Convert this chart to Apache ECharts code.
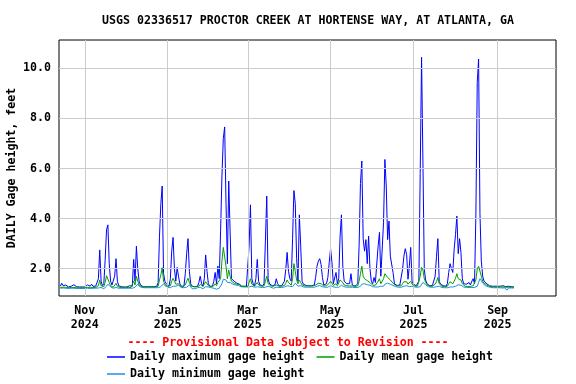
<!DOCTYPE html>
<html><head><meta charset="utf-8">
<script src="https://cdn.jsdelivr.net/npm/echarts@6/dist/echarts.min.js"></script>
<style>html,body{margin:0;padding:0;background:#fff}#c{width:576px;height:384px}</style>
</head><body><div id="c"></div>
<script>
// Daily values starting 2024-10-14
const startDate = '2024-10-14';
const maxHeight = [
1.30,1.42,1.32,1.28,1.35,1.30,1.27,1.33,1.30,1.27,1.36,1.30,1.28,1.32,1.27,1.26,1.27,1.26,
1.27,1.26,1.35,1.28,1.30,1.38,1.30,1.32,1.30,1.35,1.60,2.75,1.50,1.32,1.40,2.35,3.55,3.75,2.20,1.50,1.35,1.30,1.70,2.40,1.50,1.32,1.30,1.28,1.28,1.27,
1.27,1.27,1.28,1.32,1.28,1.30,2.37,1.50,2.90,2.00,1.50,1.35,1.30,1.28,1.28,1.28,1.28,1.28,1.28,1.28,1.28,1.28,1.28,1.30,1.45,3.30,4.60,5.30,1.80,1.50,1.40,
1.35,1.30,1.60,2.70,3.25,2.00,1.50,2.05,1.70,1.40,1.30,1.28,1.30,1.80,2.60,3.20,1.90,1.40,1.30,1.28,1.28,1.28,1.30,1.45,1.70,1.40,1.30,1.60,2.55,1.90,1.40,
1.30,1.28,1.30,1.50,1.85,1.40,2.10,1.60,3.50,5.70,7.20,7.66,4.60,2.20,5.50,3.50,1.60,1.55,1.50,1.45,1.42,1.40,1.38,1.30,1.30,1.30,1.30,1.30,
1.30,2.90,4.55,1.60,1.40,1.32,1.60,2.37,1.50,1.35,1.32,1.32,1.40,3.10,4.90,1.60,1.40,1.35,1.32,1.32,1.35,1.60,1.40,1.32,1.30,1.32,1.35,1.50,1.97,2.65,1.90,
1.60,1.50,3.20,5.12,4.60,2.40,1.50,4.15,2.90,1.50,1.38,1.35,1.33,1.32,1.32,1.32,1.32,1.33,1.35,1.65,2.10,2.30,2.40,2.17,1.65,1.35,1.35,1.40,1.65,2.25,
2.80,2.25,1.40,1.45,1.85,1.40,1.60,3.30,4.15,2.10,1.50,1.45,1.40,1.38,1.40,1.80,1.35,1.32,1.30,1.30,1.40,2.90,5.40,6.30,3.20,2.70,3.16,2.20,3.30,2.00,1.50,
1.40,1.65,1.45,1.50,2.90,3.45,1.70,1.65,3.85,6.36,5.30,3.16,3.90,2.50,2.45,1.85,1.40,1.35,1.33,1.32,1.35,1.40,1.97,2.50,2.80,2.57,1.58,2.10,2.85,1.50,
1.38,1.33,1.32,1.35,1.50,5.80,10.44,6.26,1.97,1.55,1.40,1.35,1.32,1.32,1.33,1.40,1.70,2.50,3.20,1.50,1.38,1.33,1.32,1.30,1.30,1.40,1.85,2.20,2.00,1.85,2.77,
3.36,4.10,2.60,3.20,2.65,1.60,1.40,1.33,1.38,1.32,1.45,1.35,1.50,1.60,1.40,4.15,9.44,10.37,4.20,2.30,1.70,1.50,1.45,1.40,1.35,1.32,1.35,1.30,1.33,1.30,1.30,
1.30,1.33,1.30,1.30,1.32,1.30,1.28,1.30,1.30,1.28,1.28,1.28,1.27
];
const meanHeight = [
1.25,1.27,1.26,1.25,1.26,1.25,1.24,1.25,1.25,1.24,1.25,1.25,1.24,1.25,1.24,1.24,1.24,1.24,
1.24,1.24,1.25,1.24,1.24,1.25,1.25,1.25,1.25,1.25,1.32,1.55,1.32,1.27,1.28,1.45,1.72,1.72,1.45,1.32,1.28,1.26,1.30,1.42,1.30,1.26,1.25,1.25,1.25,1.25,
1.25,1.25,1.25,1.26,1.25,1.25,1.50,1.35,1.70,1.50,1.35,1.30,1.28,1.27,1.27,1.27,1.27,1.27,1.27,1.27,1.27,1.27,1.27,1.27,1.30,1.55,1.75,2.04,1.50,1.38,1.32,
1.30,1.28,1.32,1.50,1.62,1.50,1.38,1.45,1.40,1.32,1.29,1.28,1.28,1.35,1.50,1.62,1.45,1.32,1.29,1.28,1.28,1.28,1.28,1.30,1.38,1.32,1.29,1.33,1.48,1.42,1.32,
1.29,1.28,1.28,1.32,1.40,1.32,1.45,1.38,1.60,2.30,2.85,2.90,2.10,1.60,1.95,1.70,1.50,1.45,1.42,1.40,1.38,1.37,1.36,1.30,1.29,1.29,1.29,1.29,
1.29,1.45,1.60,1.38,1.32,1.30,1.33,1.45,1.35,1.31,1.30,1.30,1.31,1.50,1.70,1.40,1.33,1.31,1.30,1.30,1.30,1.35,1.32,1.30,1.30,1.30,1.31,1.33,1.42,1.55,1.45,
1.38,1.34,1.60,2.20,1.90,1.55,1.40,1.55,1.45,1.35,1.32,1.31,1.31,1.31,1.31,1.31,1.31,1.31,1.31,1.35,1.40,1.42,1.42,1.40,1.35,1.31,1.31,1.32,1.36,1.42,
1.50,1.42,1.33,1.32,1.40,1.32,1.35,1.55,1.62,1.45,1.35,1.33,1.32,1.31,1.31,1.38,1.31,1.30,1.30,1.30,1.31,1.50,1.80,2.10,1.70,1.60,1.62,1.52,1.55,1.45,1.38,
1.34,1.38,1.34,1.33,1.50,1.60,1.40,1.38,1.60,1.80,1.78,1.65,1.65,1.55,1.50,1.42,1.36,1.33,1.32,1.31,1.31,1.32,1.40,1.48,1.50,1.48,1.38,1.40,1.50,1.38,
1.33,1.31,1.30,1.30,1.33,1.70,2.05,1.95,1.60,1.45,1.36,1.32,1.30,1.30,1.30,1.32,1.38,1.48,1.65,1.40,1.33,1.30,1.29,1.28,1.28,1.30,1.40,1.48,1.45,1.40,1.50,
1.62,1.80,1.60,1.62,1.55,1.40,1.33,1.30,1.30,1.29,1.31,1.29,1.30,1.32,1.30,1.55,2.00,2.10,2.05,1.70,1.50,1.42,1.38,1.35,1.32,1.30,1.30,1.28,1.28,1.27,1.27,
1.27,1.27,1.27,1.26,1.27,1.26,1.26,1.26,1.26,1.26,1.26,1.26,1.26
];
const minHeight = [
1.22,1.23,1.23,1.22,1.22,1.22,1.21,1.22,1.22,1.21,1.22,1.22,1.21,1.22,1.21,1.21,1.21,1.21,
1.21,1.21,1.22,1.21,1.21,1.22,1.22,1.22,1.22,1.22,1.23,1.28,1.25,1.22,1.20,1.18,1.30,1.38,1.32,1.27,1.24,1.22,1.22,1.25,1.24,1.22,1.22,1.22,1.22,1.22,
1.22,1.22,1.22,1.22,1.22,1.22,1.24,1.26,1.32,1.38,1.30,1.26,1.25,1.24,1.24,1.24,1.24,1.24,1.24,1.24,1.24,1.24,1.24,1.24,1.24,1.25,1.28,1.35,1.40,1.32,1.28,
1.26,1.25,1.24,1.26,1.30,1.36,1.30,1.28,1.34,1.28,1.25,1.24,1.24,1.24,1.26,1.30,1.35,1.28,1.20,1.18,1.20,1.24,1.24,1.24,1.26,1.26,1.20,1.24,1.28,1.32,1.27,
1.25,1.24,1.24,1.22,1.20,1.18,1.22,1.22,1.25,1.40,1.58,1.65,1.55,1.45,1.50,1.45,1.40,1.38,1.36,1.35,1.34,1.33,1.32,1.28,1.27,1.27,1.27,1.27,
1.27,1.27,1.32,1.30,1.27,1.26,1.26,1.28,1.28,1.26,1.25,1.25,1.25,1.26,1.32,1.30,1.27,1.26,1.25,1.22,1.25,1.26,1.26,1.25,1.20,1.25,1.26,1.27,1.28,1.32,1.32,
1.30,1.28,1.28,1.35,1.42,1.35,1.30,1.30,1.32,1.28,1.27,1.26,1.26,1.26,1.26,1.26,1.26,1.26,1.26,1.27,1.30,1.32,1.33,1.32,1.28,1.26,1.26,1.22,1.26,1.30,
1.33,1.30,1.27,1.22,1.26,1.26,1.26,1.28,1.34,1.32,1.28,1.26,1.26,1.22,1.26,1.26,1.26,1.25,1.25,1.25,1.25,1.26,1.30,1.38,1.42,1.40,1.38,1.36,1.36,1.34,1.30,
1.28,1.27,1.27,1.26,1.27,1.30,1.30,1.28,1.30,1.38,1.45,1.42,1.40,1.38,1.36,1.33,1.30,1.28,1.27,1.26,1.26,1.26,1.27,1.30,1.32,1.32,1.30,1.28,1.30,1.30,
1.28,1.27,1.26,1.26,1.26,1.28,1.32,1.45,1.45,1.36,1.30,1.28,1.26,1.26,1.26,1.26,1.27,1.28,1.30,1.30,1.27,1.25,1.24,1.24,1.24,1.24,1.25,1.27,1.28,1.27,1.28,
1.30,1.34,1.36,1.34,1.34,1.30,1.27,1.26,1.25,1.25,1.25,1.25,1.25,1.25,1.25,1.26,1.30,1.45,1.60,1.52,1.42,1.36,1.32,1.30,1.28,1.26,1.25,1.25,1.24,1.24,1.24,
1.24,1.24,1.24,1.23,1.24,1.23,1.22,1.15,1.23,1.23,1.23,1.23,1.23
];
const xTickDates = ['2024-11-01','2025-01-01','2025-03-01','2025-05-01','2025-07-01','2025-09-01'];
const monthNames = ['Jan','Feb','Mar','Apr','May','Jun','Jul','Aug','Sep','Oct','Nov','Dec'];
const yTicks = [2, 4, 6, 8, 10];
const xRange = ['2024-10-13', '2025-10-14'];
const yRange = [0.91, 11.13];
const seriesNames = ['Daily maximum gage height', 'Daily mean gage height', 'Daily minimum gage height'];
const seriesColors = ['#0000FF', '#00A000', '#1E90E0'];

const DAY = 86400000;
const t0 = Date.parse(startDate + 'T00:00:00Z');
const toPairs = arr => arr.map((v, i) => [t0 + i * DAY, v]);
const ts = s => Date.parse(s + 'T00:00:00Z');
const xTicks = xTickDates.map(ts);

const FONT = 'DejaVu Sans Mono';
const txt = {fontFamily: FONT, fontWeight: 'bold', fontSize: 11.6, color: '#000'};
const FONT_CSS = 'bold 11.6px "DejaVu Sans Mono"';

const chart = echarts.init(document.getElementById('c'), null, {renderer: 'canvas'});
const gridLines = {
  silent: true, symbol: 'none', label: {show: false}, animation: false,
  lineStyle: {color: '#CCCCCC', width: 1, type: 'solid'},
  emphasis: {disabled: true},
  data: yTicks.map(v => ({yAxis: v})).concat(xTicks.map(v => ({xAxis: v})))
};
chart.setOption({
  animation: false,
  backgroundColor: '#fff',
  title: {
    text: 'USGS 02336517 PROCTOR CREEK AT HORTENSE WAY, AT ATLANTA, GA',
    left: 303, top: 10, textAlign: 'center',
    textStyle: Object.assign({}, txt, {fontSize: 11.6})
  },
  grid: {left: 59, right: 20, top: 40, bottom: 88, show: true, borderColor: '#000', borderWidth: 1,
         backgroundColor: 'transparent', containLabel: false, outerBoundsMode: 'none'},
  xAxis: {
    type: 'value', min: ts(xRange[0]), max: ts(xRange[1]),
    axisLine: {show: false}, axisTick: {show: false}, splitLine: {show: false},
    axisLabel: Object.assign({}, txt, {
      customValues: xTicks, margin: 8, lineHeight: 14, hideOverlap: false,
      formatter: v => { const d = new Date(v); return monthNames[d.getUTCMonth()] + '\n' + d.getUTCFullYear(); }
    })
  },
  yAxis: {
    type: 'value', min: yRange[0], max: yRange[1],
    axisLine: {show: false}, axisTick: {show: false}, splitLine: {show: false},
    axisLabel: Object.assign({}, txt, {customValues: yTicks, margin: 8, formatter: v => v.toFixed(1)})
  },
  legend: [
    {left: 102, top: 346, itemWidth: 18, itemHeight: 1.5, itemGap: 12, icon: 'rect', textStyle: txt,
     selectedMode: false, data: [seriesNames[0], seriesNames[1]]},
    {left: 102, top: 363, itemWidth: 18, itemHeight: 1.5, itemGap: 12, icon: 'rect', textStyle: txt,
     selectedMode: false, data: [seriesNames[2]]}
  ],
  graphic: [{
    type: 'text', left: 'center', top: 337, z: 10,
    style: {text: '---- Provisional Data Subject to Revision ----', fill: '#FF0000', font: FONT_CSS}
  }, {
    type: 'text', x: 12, y: 168, rotation: Math.PI / 2, z: 10,
    style: {text: 'DAILY Gage height, feet', fill: '#000', font: FONT_CSS, align: 'center', verticalAlign: 'middle'}
  }],
  series: [
    {type: 'line', name: '_grid', data: [], z: 1, markLine: gridLines, silent: true, legendHoverLink: false},
    {type: 'line', name: seriesNames[0], data: toPairs(maxHeight), showSymbol: false, color: seriesColors[0], lineStyle: {width: 1, color: seriesColors[0]}, z: 3},
    {type: 'line', name: seriesNames[2], data: toPairs(minHeight), showSymbol: false, color: seriesColors[2], lineStyle: {width: 1, color: seriesColors[2]}, z: 4},
    {type: 'line', name: seriesNames[1], data: toPairs(meanHeight), showSymbol: false, color: seriesColors[1], lineStyle: {width: 1, color: seriesColors[1]}, z: 5}
  ]
});
</script></body></html>
